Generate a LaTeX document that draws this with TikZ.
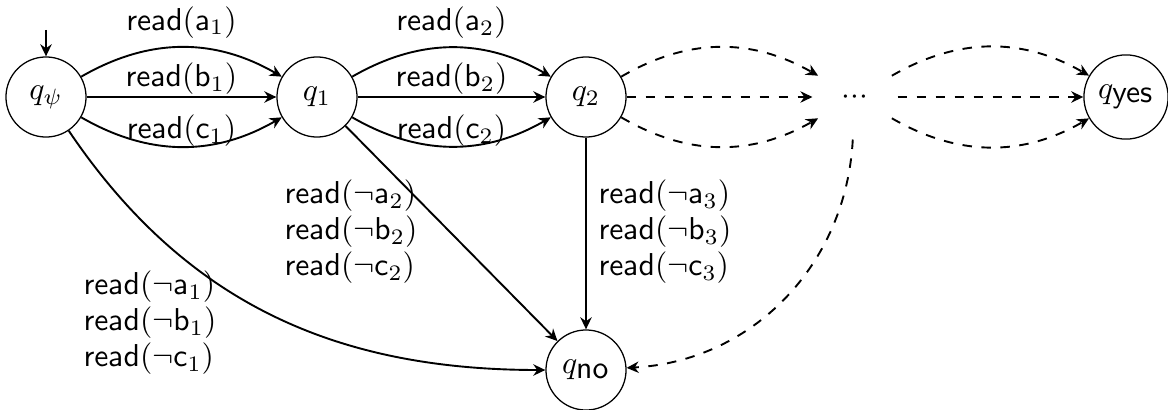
\documentclass[tikz,border=0pt]{standalone}
\usetikzlibrary{arrows.meta}
\begin{document}
\begin{tikzpicture}[x=0.316pt,y=0.316pt,
  st/.style={circle, draw, thin, minimum size=25.3pt, inner sep=1pt},
  ghost/.style={circle, minimum size=26.5pt, inner sep=0pt},
  tr/.style={semithick, -{Stealth[length=3.8pt,width=3.6pt]}},
  dtr/.style={tr, dashed},
  lbl/.style={inner sep=0pt, anchor=base},
  blk/.style={align=left, inner sep=0pt, anchor=north west, font=\fontsize{10}{11.4}\selectfont}]
\useasboundingbox (0,0) rectangle (1168,409);
% states
\node[st] (p) at (46,312) {$q_\psi$};
\node[st] (q1) at (317,312) {$q_1$};
\node[st] (q2) at (586,312) {$q_2$};
\node[ghost] (d) at (855,312) {$\mathord{\cdot}\mathord{\cdot}\mathord{\cdot}$};
\node[st, minimum size=26.6pt] (qy) at (1126,312) {$q_{\textsf{yes}}$};
\node[st] (qn) at (586,39) {$q_{\textsf{no}}$};
\coordinate (init) at (46,379);
\draw[tr] (init) -- (p);
% q_psi -> q1
\draw[tr] (p) to[bend left=30] node[lbl, yshift=5.4pt] {$\mathsf{read}(\mathsf{a}_1)$} (q1);
\draw[tr] (p) -- node[lbl, yshift=3.2pt] {$\mathsf{read}(\mathsf{b}_1)$} (q1);
\draw[tr] (p) to[bend right=30] node[lbl, yshift=2.5pt] {$\mathsf{read}(\mathsf{c}_1)$} (q1);
% q1 -> q2
\draw[tr] (q1) to[bend left=30] node[lbl, yshift=5.4pt] {$\mathsf{read}(\mathsf{a}_2)$} (q2);
\draw[tr] (q1) -- node[lbl, yshift=3.2pt] {$\mathsf{read}(\mathsf{b}_2)$} (q2);
\draw[tr] (q1) to[bend right=30] node[lbl, yshift=2.5pt] {$\mathsf{read}(\mathsf{c}_2)$} (q2);
% q2 -> dots
\draw[dtr] (q2) to[bend left=30] (d);
\draw[dtr] (q2) -- (d);
\draw[dtr] (q2) to[bend right=30] (d);
% dots -> qyes
\draw[dtr] (d) to[bend left=30] (qy);
\draw[dtr] (d) -- (qy);
\draw[dtr] (d) to[bend right=30] (qy);
% to q_no
\draw[tr] (p) to[out=-56, in=180] (qn);
\draw[tr] (q1) -- (qn);
\draw[tr] (q2) -- (qn);
\draw[dtr] (d) to[out=-93, in=3] (qn);
% label blocks
\node[blk] (l1) at (83,139) {$\mathsf{read}(\neg\mathsf{a}_1)$\\ $\mathsf{read}(\neg\mathsf{b}_1)$\\ $\mathsf{read}(\neg\mathsf{c}_1)$};
\node[blk] (l2) at (284,230) {$\mathsf{read}(\neg\mathsf{a}_2)$\\ $\mathsf{read}(\neg\mathsf{b}_2)$\\ $\mathsf{read}(\neg\mathsf{c}_2)$};
\node[blk] (l3) at (598,230) {$\mathsf{read}(\neg\mathsf{a}_3)$\\ $\mathsf{read}(\neg\mathsf{b}_3)$\\ $\mathsf{read}(\neg\mathsf{c}_3)$};
\end{tikzpicture}
\end{document}
